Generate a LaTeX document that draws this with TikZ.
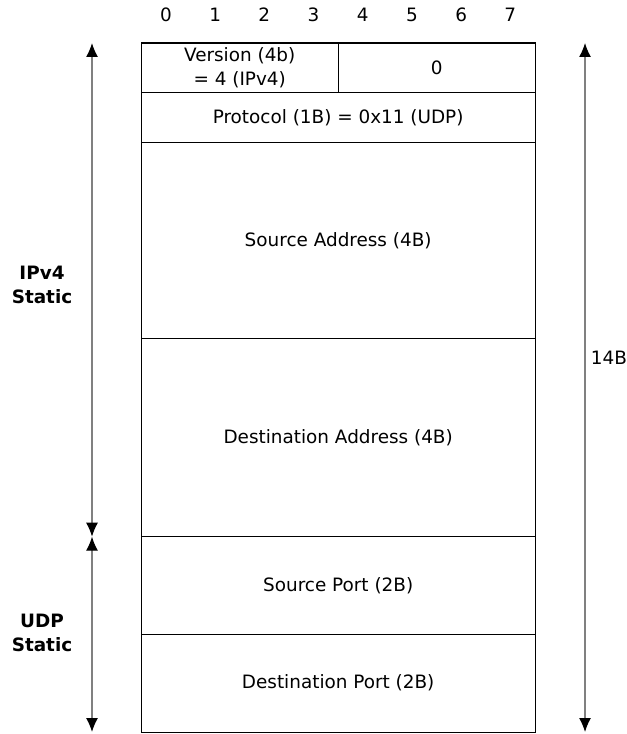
\documentclass[tikz,border=0pt]{standalone}
\usepackage{fontspec}
\setmainfont{DejaVu Sans}
\usepackage{tikz}
\usetikzlibrary{positioning}
\usetikzlibrary{arrows.meta}

\begin{document}
\begin{tikzpicture}[
  x=0.75pt, y=-0.75pt,
  node distance=0pt,
  every node/.style={font=\fontsize{13.8}{17.5}\selectfont},
  field/.style={draw, line width=0.8pt, minimum width=295.3pt, inner sep=0pt, outer sep=0pt, align=center},
  halffield/.style={field, minimum width=147.65pt},
  sidelabel/.style={align=center, font=\fontsize{13.8}{18.5}\selectfont\bfseries},
  sizearrow/.style={draw=gray, line width=0.9pt, {Latex[black,length=10.5pt,width=9pt]}-{Latex[black,length=10.5pt,width=9pt]}}
]
\useasboundingbox (0,0) rectangle (626,734);

\foreach \i in {0,...,7}
  \node (bit\i) at (165.9+49.2*\i, 15) {\i};

\node[halffield, minimum height=37.3pt, anchor=north west] (version) at (141.3,43) {Version (4b)\\= 4 (IPv4)};
\node[halffield, minimum height=37.3pt, right=of version] (zero) {0};
\node[field, minimum height=37.6pt, below=of version.south east] (protocol) {Protocol (1B) = 0x11 (UDP)};
\node[field, minimum height=146.7pt, below=of protocol] (srcaddr) {Source Address (4B)};
\node[field, minimum height=148.8pt, below=of srcaddr] (dstaddr) {Destination Address (4B)};
\node[field, minimum height=73pt, below=of dstaddr] (srcport) {Source Port (2B)};
\node[field, minimum height=73.5pt, below=of srcport] (dstport) {Destination Port (2B)};

\node[sidelabel] (ipv4) at (42,285) {IPv4\\Static};
\node[sidelabel] (udp) at (42,633) {UDP\\Static};
\node (total) at (609,358) {14B};

\coordinate (ltop) at (92,43);
\coordinate (lmid) at (92,536.7);
\coordinate (lbot) at (92,732);
\coordinate (rtop) at (585,43);
\coordinate (rbot) at (585,732);

\path (ltop) edge[sizearrow] (lmid)
(lmid) edge[sizearrow] (lbot)
(rtop) edge[sizearrow] (rbot)
;

\end{tikzpicture}
\end{document}
